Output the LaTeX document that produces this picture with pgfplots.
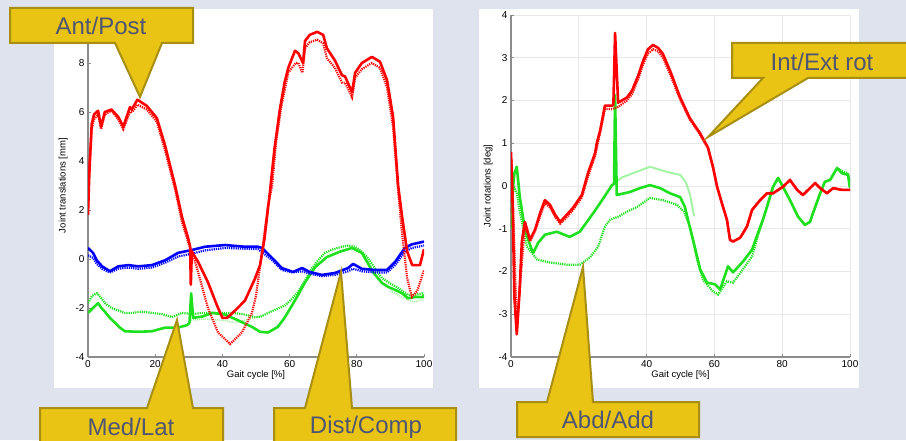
\documentclass[border=0pt]{standalone}
\usepackage{fontspec}
\setmainfont{Liberation Sans}
\usepackage{pgfplots}
\pgfplotsset{compat=1.18}

\definecolor{bgblue}{HTML}{DFE3EE}
\definecolor{callfill}{HTML}{E9C414}
\definecolor{calldraw}{HTML}{A88F12}
\definecolor{calltext}{HTML}{4F5573}
\definecolor{axgray}{HTML}{8C8C8C}
\definecolor{mred}{HTML}{FF0000}
\definecolor{mgreen}{HTML}{1EE01E}
\definecolor{mblue}{HTML}{0000FF}

\pgfplotsset{
  gait/.style={
    scale only axis,
    anchor=south west,
    xmin=0, xmax=100,
    axis x line*=bottom, axis y line*=left,
    axis line style={axgray, line width=1.3pt},
    tick style={axgray, line width=0.8pt},
    major tick length=3pt,
    xtick={0,20,40,60,80,100},
    /pgf/number format/assume math mode=true,
    tick label style={font=\fontsize{10}{12}\selectfont, black},
    label style={font=\fontsize{9.5}{11}\selectfont, black},
    xlabel={Gait cycle [\%]},
    xlabel style={yshift=4pt},
  },
  sol/.style={line width=2.6pt, line join=round},
  dot/.style={line width=2.2pt, dash pattern=on 1.2pt off 1pt},
}

\begin{document}
\begin{tikzpicture}
% background and white panels, in pixel units
\begin{scope}[x=1pt, y=-1pt, yshift=440pt]
  \fill[bgblue] (0,0) rectangle (906,440);
  \fill[white] (54,9) rectangle (433,388);
  \fill[white] (479,9) rectangle (859,388);
\end{scope}

% left: joint translations
\begin{axis}[gait,
  at={(88pt,83pt)}, width=336pt, height=343pt,
  ymin=-4, ymax=10,
  ytick={-4,-2,0,2,4,6,8},
  ylabel={Joint translations [mm]},
  ylabel style={yshift=1pt},
]
\addplot[mgreen!45, line width=1.5pt, dash pattern=on 1pt off 1pt] coordinates {
(30,-2.5)(35,-2.45)(40,-2.5)(44,-2.6)(48,-2.45)(52,-2.3)};
\addplot[mgreen!45, line width=1.5pt, dash pattern=on 1pt off 1pt] coordinates {
(90,-1.3)(94,-1.6)(97,-1.75)(100,-1.65)};
\addplot[mgreen, dot] coordinates {
(0,-1.8)(1.2,-1.5)(2.7,-1.4)(4,-1.6)(5,-1.8)(7,-2.0)(9,-2.1)(11,-2.2)(13,-2.2)
(16,-2.15)(19,-2.2)(22,-2.25)(25,-2.37)(28,-2.2)(31,-2.25)(34,-2.2)(37,-2.2)
(40,-2.2)(43,-2.2)(46,-2.25)(49.7,-2.37)(51.2,-2.37)(53.6,-2.2)(56,-2.05)
(58.6,-1.9)(60.5,-1.65)(62.5,-1.35)(64.5,-0.9)(66.7,-0.37)(68.5,-0.05)(70.5,0.25)
(73,0.4)(75.6,0.5)(77.5,0.55)(79.5,0.5)(81.5,0.3)(83.3,0.04)(85.5,-0.4)(87.5,-0.78)
(90,-1.0)(92.3,-1.18)(94,-1.35)(95.2,-1.47)(97.5,-1.45)(100,-1.39)};
\addplot[mgreen, sol] coordinates {
(0,-2.2)(1.5,-2.0)(3,-1.8)(4,-2.0)(5,-2.15)(6.5,-2.4)(8,-2.6)(9.5,-2.8)(11,-2.95)
(15,-2.97)(19,-2.95)(23,-2.8)(26.8,-2.8)(29.5,-2.7)(30.2,-2.6)(30.7,-1.4)(31.3,-2.4)
(34,-2.35)(37,-2.2)(40.8,-2.27)(44.6,-2.5)(48.8,-2.77)(51.2,-2.97)(53.6,-3.0)
(56.5,-2.77)(58.5,-2.4)(60.7,-1.9)(62.6,-1.45)(64.6,-0.95)(67.6,-0.33)(71.1,0.08)
(75,0.3)(78.6,0.45)(81.5,0.25)(83,-0.1)(84.8,-0.53)(87.5,-0.98)(89.5,-1.15)
(91.4,-1.26)(93.5,-1.4)(95.2,-1.6)(97.5,-1.55)(99.7,-1.55)(100,-1.45)};
\addplot[mblue, dot] coordinates {
(0,0.15)(1.5,0.05)(2.6,-0.2)(4.2,-0.4)(6.5,-0.55)(9,-0.4)(12,-0.35)(15,-0.4)
(19,-0.35)(23,-0.15)(26.8,0.1)(31,0.22)(34.8,0.35)(40.8,0.45)(46.7,0.42)(50.6,0.4)
(52.5,0.2)(54.8,-0.05)(57.7,-0.45)(61,-0.55)(63.7,-0.5)(66,-0.6)(69.6,-0.7)
(73.5,-0.65)(77.4,-0.5)(78.9,-0.4)(81.5,-0.5)(85.4,-0.55)(89,-0.55)(91.4,-0.25)
(94.3,0.3)(96.4,0.45)(100,0.55)};
\addplot[mblue, sol] coordinates {
(0,0.45)(1.5,0.25)(2.6,-0.05)(4.2,-0.3)(6.5,-0.5)(9,-0.3)(12,-0.25)(15,-0.3)
(19,-0.25)(23,-0.05)(26.8,0.25)(31,0.37)(34.8,0.5)(40.8,0.57)(46.7,0.5)(50.6,0.5)
(51.8,0.45)(54.8,0.04)(57.7,-0.37)(61,-0.53)(63.7,-0.37)(66,-0.53)(69.6,-0.65)
(73.5,-0.57)(77.4,-0.37)(78.9,-0.2)(81.5,-0.4)(85.4,-0.45)(89,-0.45)(91.4,-0.12)
(94.3,0.45)(96.4,0.6)(99.7,0.7)(100,0.72)};
\addplot[mred, dot] coordinates {
(0,2.2)(0.4,3.8)(1.1,5.3)(1.8,5.7)(3,5.9)(3.9,5.3)(5,5.9)(7,6.05)(9,5.7)(10.5,5.3)
(12.5,6.0)(13.2,6.0)(14.7,6.3)(17.5,6.1)(20.5,5.6)(23,4.4)(26,2.8)(28,1.5)(30,0.6)
(31,0.3)(32.7,-0.5)(35.7,-2.0)(38.7,-3.0)(42.3,-3.47)(45.8,-3.0)(48.8,-2.2)
(50,-1.5)(51.8,0.3)(53.6,2.2)(54.8,3.0)(56,4.8)(57.5,6.2)(59.6,7.6)(61.8,8.0)
(62.6,8.0)(63.8,7.6)(64.6,8.6)(66,8.85)(68.2,8.95)(70,8.8)(71.1,8.2)(73.5,7.8)
(75.6,7.2)(76.5,7.2)(78.6,6.6)(79.5,7.4)(81.5,7.75)(84.5,8.0)(86.9,7.8)(89,7.0)
(90.8,5.4)(92.3,2.8)(93.5,1.0)(95,-0.8)(96.4,-1.55)(98,-1.3)(100,-0.45)};
\addplot[mred, sol] coordinates {
(0,1.8)(0.4,3.5)(1.1,5.5)(1.8,5.9)(3,6.05)(3.9,5.4)(5,6.0)(7,6.1)(9,5.8)(10.5,5.4)
(12.5,6.2)(13,6.1)(14.7,6.5)(17.5,6.25)(20.5,5.75)(23,4.6)(26,2.95)(28,1.7)
(29.8,0.85)(30.4,0.5)(30.6,-1.05)(30.9,0.3)(32.7,-0.1)(35.7,-0.95)(38.4,-1.9)
(40,-2.4)(41.4,-2.4)(43.8,-2.1)(46.7,-1.7)(49.7,-0.8)(51.2,-0.25)(52.5,0.8)
(54.2,2.8)(55.5,4.5)(57.1,6.1)(58.5,7.2)(59.6,7.8)(61.6,8.5)(62.6,8.4)(64,8.0)
(64.6,8.9)(66,9.15)(68.2,9.27)(70,9.15)(71.1,8.6)(73.5,8.1)(75.6,7.5)(76.5,7.45)
(78.6,6.8)(79.5,7.6)(81.5,8.0)(84.5,8.25)(86.9,8.05)(89,7.3)(90.8,5.8)(92.3,3.0)
(93.5,1.7)(95,0.3)(96.5,-0.25)(98.8,-0.25)(100,0.4)};
\end{axis}

% right: joint rotations
\begin{axis}[gait,
  at={(511pt,83pt)}, width=339pt, height=342pt,
  ymin=-4, ymax=4,
  ytick={-4,-3,-2,-1,0,1,2,3,4},
  grid=major,
  grid style={gray!18, line width=0.8pt},
  ylabel={Joint rotations [deg]},
  ylabel style={yshift=-1pt},
]
\addplot[mgreen!40, line width=2pt] coordinates {
(31,0.1)(32.7,0.2)(36,0.3)(41,0.45)(46,0.33)(49.9,0.26)(51.5,0.1)(52.8,-0.2)(54,-0.7)};
\addplot[mgreen, dot] coordinates {
(0,-0.7)(0.8,0.0)(1.7,-0.15)(2.6,-0.6)(4.7,-1.42)(7.7,-1.72)(11.5,-1.79)(16.5,-1.84)
(20.3,-1.84)(23.3,-1.67)(25.7,-1.42)(27.7,-0.95)(29.2,-0.79)(31.6,-0.72)(34.2,-0.6)
(37.2,-0.49)(41,-0.28)(44.8,-0.33)(49,-0.44)(51,-0.6)(52.8,-0.95)(54.9,-1.72)
(56.6,-2.19)(59.6,-2.47)(61.1,-2.54)(63.7,-2.23)(65.5,-2.26)(68.4,-1.95)(71.1,-1.65)
(72.9,-1.15)(74.3,-0.8)(75.5,-0.49)(77.3,-0.02)(78.8,0.19)(80.2,0.0)(82.3,-0.33)
(84.7,-0.72)(86.7,-0.91)(88.2,-0.84)(89.1,-0.63)(91.2,-0.17)(92.6,0.1)(94.1,0.14)
(96.2,0.42)(97.6,0.35)(99.4,0.3)(100,0.1)};
\addplot[mgreen, sol] coordinates {
(0,-1.0)(0.4,-0.2)(1.0,0.3)(1.7,0.45)(2.6,-0.26)(4.1,-1.02)(6.1,-1.49)(6.6,-1.56)
(8,-1.33)(10,-1.14)(13.5,-1.07)(17.3,-1.19)(20.3,-1.07)(24.3,-0.63)(27.3,-0.28)
(29.8,0.02)(30.4,0.05)(30.7,2.12)(31.2,-0.21)(35.1,-0.14)(38,-0.05)(41,0.02)
(44,-0.05)(46.9,-0.17)(49.9,-0.26)(51.3,-0.49)(52.2,-0.79)(53.7,-1.26)(55.8,-1.95)
(57.8,-2.26)(60.2,-2.3)(61.7,-2.42)(64,-1.88)(65.5,-2.02)(68.4,-1.77)(71.1,-1.49)
(72.9,-1.09)(74.3,-0.79)(75.5,-0.49)(77.3,-0.02)(78.8,0.19)(80.2,-0.02)(82.3,-0.33)
(84.7,-0.72)(86.7,-0.91)(88.2,-0.84)(89.1,-0.63)(91.2,-0.17)(92.6,0.1)(94.1,0.14)
(96.2,0.42)(97.6,0.3)(99.4,0.26)(100,-0.05)};
\addplot[mred, dot] coordinates {
(0.2,0.6)(1.7,-3.3)(4.1,-0.9)(5.6,-1.3)(7.1,-1.05)(8.6,-0.7)(10,-0.4)(11.5,-0.5)
(13,-0.72)(14.5,-0.88)(15.9,-0.78)(18.3,-0.56)(20.9,-0.27)(22.7,0.22)(24.8,0.7)
(26.3,1.25)(27.7,1.8)(29.8,1.8)(31.6,1.85)(34.2,2.0)(35.7,2.15)(37.5,2.5)(39,2.85)
(40.4,3.1)(41.9,3.2)(43.4,3.15)(44.8,3.0)(46.9,2.62)(49.9,2.02)(52.8,1.55)
(55.8,1.2)(58.1,0.88)(59.6,0.42)(60.8,-0.02)(62.2,-0.4)(63.7,-0.79)(64.6,-1.26)
(65.5,-1.3)(67.6,-1.21)(69.6,-0.95)(71.1,-0.56)(73.5,-0.33)(75.5,-0.17)(77.3,-0.17)
(80.2,-0.02)(82.3,0.14)(84.4,-0.09)(86.1,-0.21)(88.2,-0.05)(89.7,0.07)(91.2,-0.05)
(93.2,-0.17)(95,-0.05)(97.6,-0.09)(100,-0.09)};
\addplot[mred, sol] coordinates {
(0,0.8)(0.5,-0.5)(1.0,-2.6)(1.7,-3.47)(2.5,-2.5)(3.2,-1.3)(4.1,-0.84)(5.6,-1.26)
(7.1,-1.02)(8.6,-0.63)(10,-0.33)(11.5,-0.44)(13,-0.67)(14.5,-0.84)(15.9,-0.72)
(18.3,-0.51)(20.9,-0.21)(22.7,0.3)(24.8,0.77)(25.3,1.0)(26.3,1.3)(27.7,1.88)
(29.8,1.88)(30.2,1.9)(30.7,3.58)(31.6,1.95)(34.2,2.07)(35.7,2.23)(37.5,2.58)
(39,2.93)(40.4,3.2)(41.9,3.3)(43.4,3.23)(44.8,3.09)(46.9,2.7)(49.9,2.07)(52.8,1.58)
(55.8,1.23)(58.1,0.9)(59.6,0.44)(60.8,-0.02)(62.2,-0.4)(63.7,-0.79)(64.6,-1.26)
(65.5,-1.3)(67.6,-1.21)(69.6,-0.95)(71.1,-0.56)(73.5,-0.33)(75.5,-0.17)(77.3,-0.17)
(80.2,-0.02)(82.3,0.14)(84.4,-0.09)(86.1,-0.21)(88.2,-0.05)(89.7,0.07)(91.2,-0.05)
(93.2,-0.17)(95,-0.05)(97.6,-0.09)(100,-0.09)};
\end{axis}

% callouts, in pixel units
\begin{scope}[x=1pt, y=-1pt, yshift=440pt]
  \clip (0,0) rectangle (906,440);
  \tikzset{call/.style={fill=callfill, draw=calldraw, line width=2pt, line join=miter},
           ctext/.style={text=calltext, font=\fontsize{24}{28}\selectfont, inner sep=0pt}}
  \draw[call] (10,8) -- (193,8) -- (193,43) -- (162,43) -- (140,97) -- (115,43) -- (10,43) -- cycle;
  \draw[call] (40,408) -- (147,408) -- (177,320) -- (193,408) -- (223,408) -- (223,446) -- (40,446) -- cycle;
  \draw[call] (274,408) -- (305,408) -- (341,272) -- (352,408) -- (456,408) -- (456,446) -- (274,446) -- cycle;
  \draw[call] (732,43) -- (912,43) -- (912,78) -- (808,78) -- (708,137) -- (763,78) -- (732,78) -- cycle;
  \draw[call] (517,402) -- (547,402) -- (583,267) -- (593,402) -- (699,402) -- (699,437) -- (517,437) -- cycle;
  \node[ctext] at (101,26) {Ant/Post};
  \node[ctext] at (131,427) {Med/Lat};
  \node[ctext] at (366,427) {Dist/Comp};
  \node[ctext] at (822,62) {Int/Ext rot};
  \node[ctext] at (608,420) {Abd/Add};
\end{scope}
\end{tikzpicture}
\end{document}
